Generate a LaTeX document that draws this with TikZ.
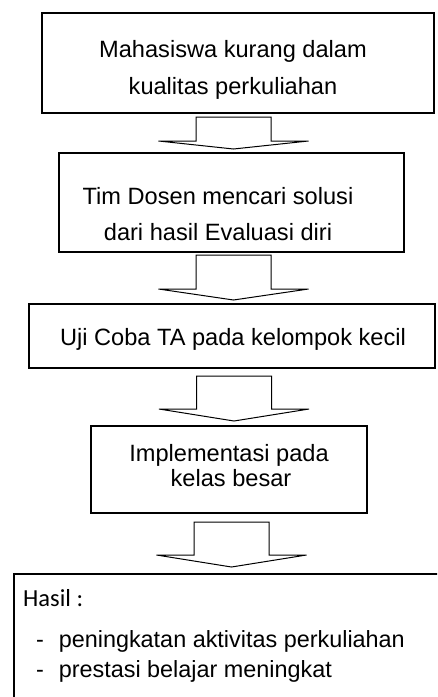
\documentclass[tikz,border=0pt]{standalone}
\usepackage{fontspec}
\setmainfont{Liberation Sans}
\newfontfamily\hasilfont{Carlito}
\newcommand{\blockdown}[3]{% top of stem, stem length, head length
  \draw[blockarrow] (#1) ++(-37.5,0) -- ++(0,#2) -- ++(-37.5,0) -- ++(75,#3)
    -- ++(75,-#3) -- ++(-37.5,0) -- ++(0,-#2) -- cycle;}
\tikzset{
  box/.style={draw, line width=1.3pt, rectangle, inner sep=0pt},
  txt/.style={align=center, inner sep=0pt},
  blockarrow/.style={draw, line width=1pt, line join=miter},
}
\begin{document}
\begin{tikzpicture}[x=1pt, y=-1pt]
    \useasboundingbox (0,0) rectangle (437,697);
    \clip (0,0) rectangle (437,697);

    %boxes
    \node[box, minimum width=392pt, minimum height=100pt] (b1) at (238,63) {};
    \node[box, minimum width=345pt, minimum height=99pt] (b2) at (231.5,202.5) {};
    \node[box, minimum width=406pt, minimum height=64pt] (b3) at (232,336) {};
    \node[box, minimum width=276pt, minimum height=87pt] (b4) at (229,469.5) {};
    \draw[line width=1.3pt] (14,740) -- (14,574) -- (470,574);

    %texts (base = last line)
    \node[txt, anchor=base, font=\fontsize{23.6}{37}\selectfont] (t1) at (233,94.3)
        {Mahasiswa kurang dalam\\kualitas perkuliahan};
    \node[txt, anchor=base, font=\fontsize{23.6}{36}\selectfont] (t2) at (218,240)
        {Tim Dosen mencari solusi\\dari hasil Evaluasi diri};
    \node[txt, anchor=base, font=\fontsize{23.6}{28}\selectfont] (t3) at (233,345)
        {Uji Coba TA pada kelompok kecil};
    \node[txt, anchor=base, font=\fontsize{23.6}{25}\selectfont] (t4) at (229,486.7)
        {Implementasi pada\\\hspace*{4pt}kelas besar};
    \node[txt, anchor=base west, align=left, font=\fontsize{23.4}{30}\selectfont] (t5) at (23,677)
        {{\hasilfont\fontsize{24.5}{30}\selectfont Hasil :}\\[11pt]
         \hspace*{13pt}-\hspace*{14.8pt}peningkatan aktivitas perkuliahan\\
         \hspace*{13pt}-\hspace*{14.8pt}prestasi belajar meningkat};

    %arrows
    \coordinate (a1) at (233.5,117);
    \coordinate (a2) at (233.5,255);
    \coordinate (a3) at (234,376);
    \coordinate (a4) at (231.5,522);
    \blockdown{a1}{24}{8}
    \blockdown{a2}{34}{11}
    \blockdown{a3}{33}{12}
    \blockdown{a4}{33}{12}
\end{tikzpicture}
\end{document}
